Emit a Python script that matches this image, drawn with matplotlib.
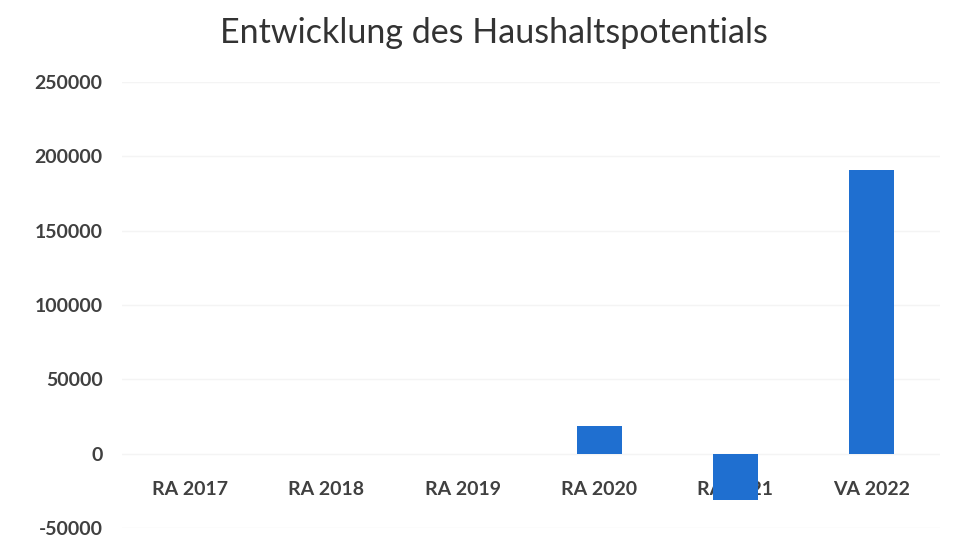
import matplotlib.pyplot as plt

CATEGORIES = ['RA 2017', 'RA 2018', 'RA 2019', 'RA 2020', 'RA 2021', 'VA 2022']
VALUES = [0, 0, 0, 18500, -31500, 191000]
Y_TICKS = [-50000, 0, 50000, 100000, 150000, 200000, 250000]

BAR_COLOR = '#1f6fd0'
TEXT_COLOR = '#404040'

plt.rcParams['font.family'] = ['Lato', 'DejaVu Sans']

fig = plt.figure(figsize=(9.6, 5.38), dpi=100)
ax = fig.add_axes([0.127, 0.0186, 0.852, 0.829])

x = range(len(CATEGORIES))
ax.bar(x, VALUES, width=0.33, color=BAR_COLOR, zorder=2)

ax.set_xlim(-0.5, len(CATEGORIES) - 0.5)
ax.set_ylim(Y_TICKS[0], Y_TICKS[-1])
ax.set_yticks(Y_TICKS)
ax.set_yticklabels([str(t) for t in Y_TICKS])
ax.grid(axis='y', color='#f4f4f4', linewidth=1, zorder=0)

# category labels sit just under the zero line, like Excel
ax.set_xticks(list(x))
ax.set_xticklabels(CATEGORIES)
ax.spines['bottom'].set_position(('data', 0))
for side in ['top', 'right', 'left', 'bottom']:
    ax.spines[side].set_visible(False)
ax.tick_params(axis='both', length=0, colors=TEXT_COLOR, labelsize=14)
ax.tick_params(axis='x', pad=20)
ax.tick_params(axis='y', pad=14)
for lbl in ax.get_xticklabels() + ax.get_yticklabels():
    lbl.set_fontweight('bold')

fig.text(0.515, 0.938, 'Entwicklung des Haushaltspotentials',
         ha='center', va='center', fontsize=24.5, color='#333333')

fig.savefig('out.png', dpi=100)
